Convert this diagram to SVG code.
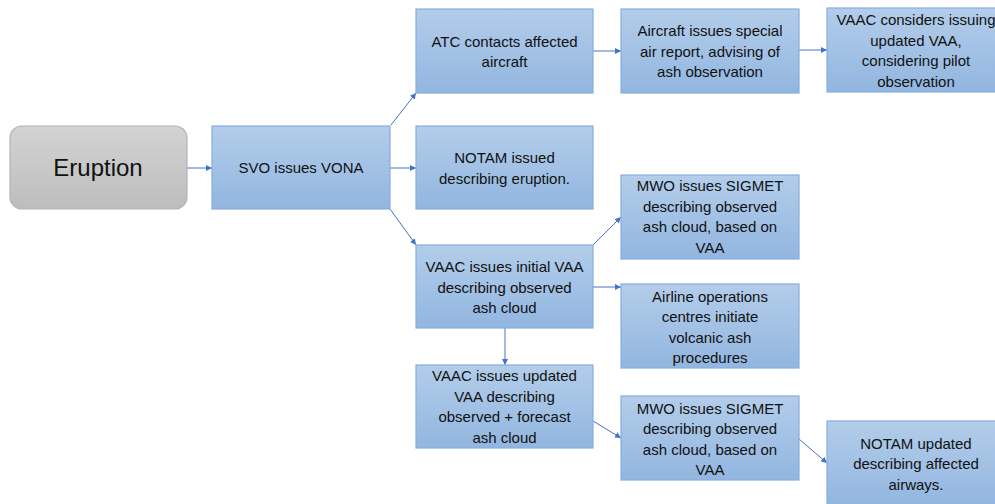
<svg xmlns="http://www.w3.org/2000/svg" width="995" height="504" viewBox="0 0 995 504">
<defs>
<linearGradient id="gBlue" x1="0" y1="0" x2="0" y2="1">
<stop offset="0" stop-color="#b3cdea"/>
<stop offset="1" stop-color="#92b6e0"/>
</linearGradient>
<linearGradient id="gGray" x1="0" y1="0" x2="0" y2="1">
<stop offset="0" stop-color="#d3d3d3"/>
<stop offset="1" stop-color="#bdbdbd"/>
</linearGradient>
<marker id="arr" viewBox="0 0 10 10" refX="10" refY="5" markerWidth="6" markerHeight="6" markerUnits="userSpaceOnUse" orient="auto">
<path d="M0,0 L10,5 L0,10 z" fill="#4472c4"/>
</marker>
</defs>
<style>
.box{fill:url(#gBlue);stroke:#86aee0;stroke-width:1.2}
.start{fill:url(#gGray);stroke:#b3b3b3;stroke-width:1.2}
text{font-family:"Liberation Sans",Arial,sans-serif;font-size:15px;fill:#111;text-anchor:middle}
.big{font-size:24px}
.conn line{stroke:#4472c4;stroke-width:1;marker-end:url(#arr)}
</style>
<rect width="995" height="504" fill="#ffffff"/>

<g id="connectors" class="conn">
<line x1="187" y1="168" x2="212" y2="168"/>
<line x1="391" y1="125" x2="416" y2="93"/>
<line x1="390" y1="168" x2="416" y2="168"/>
<line x1="390" y1="209" x2="416" y2="245"/>
<line x1="593" y1="51" x2="621" y2="51"/>
<line x1="799" y1="50" x2="827" y2="50"/>
<line x1="593" y1="245" x2="621" y2="217"/>
<line x1="593" y1="287" x2="621" y2="287"/>
<line x1="505" y1="328" x2="505" y2="365"/>
<line x1="593" y1="421" x2="621" y2="438"/>
<line x1="799" y1="439" x2="827" y2="463"/>
</g>

<g id="eruption">
<rect class="start" x="10" y="126" width="177" height="83" rx="12"/>
<text class="big" x="98" y="176">Eruption</text>
</g>

<g id="svo">
<rect class="box" x="212" y="126" width="178" height="83"/>
<text x="301" y="173">SVO issues VONA</text>
</g>

<g id="atc">
<rect class="box" x="416" y="9" width="177" height="84"/>
<text x="504.5" y="46.5">ATC contacts affected</text>
<text x="504.5" y="67">aircraft</text>
</g>

<g id="aircraft">
<rect class="box" x="621" y="9" width="178" height="84"/>
<text x="710" y="36">Aircraft issues special</text>
<text x="710" y="56.5">air report, advising of</text>
<text x="710" y="77">ash observation</text>
</g>

<g id="vaac-considers">
<rect class="box" x="827" y="8" width="178" height="84"/>
<text x="916" y="25">VAAC considers issuing</text>
<text x="916" y="45.5">updated VAA,</text>
<text x="916" y="66">considering pilot</text>
<text x="916" y="86.5">observation</text>
</g>

<g id="notam-issued">
<rect class="box" x="416" y="126" width="177" height="83"/>
<text x="504.5" y="163">NOTAM issued</text>
<text x="504.5" y="183.5">describing eruption.</text>
</g>

<g id="vaac-initial">
<rect class="box" x="416" y="245" width="177" height="83"/>
<text x="504.5" y="272">VAAC issues initial VAA</text>
<text x="504.5" y="292.5">describing observed</text>
<text x="504.5" y="313">ash cloud</text>
</g>

<g id="mwo-1">
<rect class="box" x="621" y="175" width="178" height="84"/>
<text x="710" y="191">MWO issues SIGMET</text>
<text x="710" y="211.5">describing observed</text>
<text x="710" y="232">ash cloud, based on</text>
<text x="710" y="252.5">VAA</text>
</g>

<g id="airline">
<rect class="box" x="621" y="284" width="178" height="84"/>
<text x="710" y="301.5">Airline operations</text>
<text x="710" y="322">centres initiate</text>
<text x="710" y="342.5">volcanic ash</text>
<text x="710" y="363">procedures</text>
</g>

<g id="vaac-updated">
<rect class="box" x="416" y="365" width="177" height="83"/>
<text x="504.5" y="381">VAAC issues updated</text>
<text x="504.5" y="401.5">VAA describing</text>
<text x="504.5" y="422">observed + forecast</text>
<text x="504.5" y="442.5">ash cloud</text>
</g>

<g id="mwo-2">
<rect class="box" x="621" y="396" width="178" height="84"/>
<text x="710" y="413.5">MWO issues SIGMET</text>
<text x="710" y="434">describing observed</text>
<text x="710" y="454.5">ash cloud, based on</text>
<text x="710" y="475">VAA</text>
</g>

<g id="notam-updated">
<rect class="box" x="827" y="421" width="178" height="84"/>
<text x="916" y="448.5">NOTAM updated</text>
<text x="916" y="469">describing affected</text>
<text x="916" y="489.5">airways.</text>
</g>
</svg>
